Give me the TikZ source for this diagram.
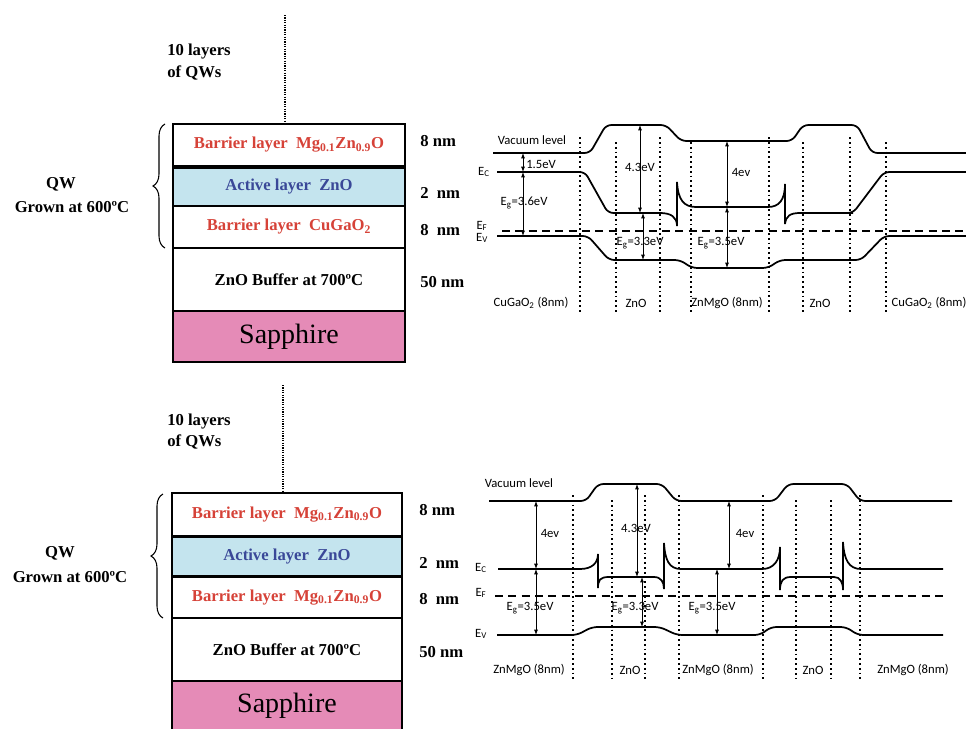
\documentclass[tikz,border=0pt]{standalone}
\usepackage{fontspec}
\setmainfont{Liberation Serif}
\newfontfamily\bandfont{Carlito}
\usetikzlibrary{arrows.meta,decorations.pathreplacing}
\definecolor{barred}{RGB}{214,66,56}
\definecolor{actblue}{RGB}{58,72,152}
\definecolor{actfill}{RGB}{196,228,238}
\definecolor{sapfill}{RGB}{229,139,183}
\tikzset{
  layer/.style={draw=black, line width=2pt, fill=white, inner sep=0pt, font=\bfseries\fontsize{12.5}{14}\selectfont},
  bartxt/.style={text=barred},
  acttxt/.style={text=actblue, fill=actfill},
  sapph/.style={fill=sapfill, font=\fontsize{21}{24}\selectfont},
  sidelbl/.style={font=\bfseries\fontsize{12.5}{14}\selectfont, anchor=west, inner sep=0pt},
  qwlbl/.style={font=\bfseries\fontsize{12.5}{14}\selectfont, inner sep=0pt},
  dotv/.style={line width=1.6pt, dash pattern=on 0.9pt off 0.9pt},
  brc/.style={line width=0.8pt, decorate, decoration={brace, amplitude=9pt}},
  band/.style={line width=1.3pt, rounded corners=4pt},
  spk/.style={line width=1.3pt},
  fermi/.style={line width=1.3pt, dash pattern=on 6pt off 4pt},
  grid/.style={line width=1.1pt, dash pattern=on 1.4pt off 2.2pt},
  dbl/.style={{Latex[length=4pt,width=3pt]}-{Latex[length=4pt,width=3pt]}, line width=0.7pt},
  bt/.style={font=\bandfont\fontsize{9.5}{11}\selectfont, inner sep=0pt},
}
\begin{document}
\begin{tikzpicture}[x=0.75pt, y=-0.75pt]
\clip (0,0) rectangle (966,728);
\fill[white] (0,0) rectangle (966,728);

% ================= TOP STACK =================
\node[layer, bartxt, minimum width=174pt, minimum height=31.5pt] (tb1) at (289,145) {Barrier layer\ \ Mg\textsubscript{0.1}Zn\textsubscript{0.9}O};
\node[layer, acttxt, minimum width=174pt, minimum height=28.5pt] (ta) at (289,187) {Active layer\ \ ZnO};
\node[layer, bartxt, minimum width=174pt, minimum height=31.5pt] (tb2) at (289,227) {Barrier layer\ \ CuGaO\textsubscript{2}};
\node[layer, minimum width=174pt, minimum height=47.25pt] (tbuf) at (289,279.5) {ZnO Buffer at 700ºC};
\node[layer, sapph, minimum width=174pt, minimum height=38.25pt] (tsap) at (289,336.5) {Sapphire};
\coordinate (tdot) at (285,15);
\draw[dotv] (tdot) -- (tdot |- tb1.north);
\node[qwlbl, anchor=west] (t10a) at (167,52) {10 layers};
\node[qwlbl, anchor=west] (t10b) at (167,73) {of QWs};
\node[qwlbl] (tqw) at (61,184) {QW};
\node[qwlbl] (tgr) at (72,207) {Grown at 600ºC};
\coordinate (tbrb) at (165,248);
\coordinate (tbrt) at (165,124);
\draw[brc] (tbrb) -- (tbrt);
\node[sidelbl] (tl1) at (420,141) {8 nm};
\node[sidelbl] (tl2) at (420,193) {2\ \ nm};
\node[sidelbl] (tl3) at (420,230) {8\ \ nm};
\node[sidelbl] (tl4) at (420,282) {50 nm};

% ================= BOTTOM STACK =================
\node[layer, bartxt, minimum width=172.5pt, minimum height=32.25pt] (bb1) at (287,514.5) {Barrier layer\ \ Mg\textsubscript{0.1}Zn\textsubscript{0.9}O};
\node[layer, acttxt, minimum width=172.5pt, minimum height=29.25pt] (ba) at (287,556.5) {Active layer\ \ ZnO};
\node[layer, bartxt, minimum width=172.5pt, minimum height=30.75pt] (bb2) at (287,597.5) {Barrier layer\ \ Mg\textsubscript{0.1}Zn\textsubscript{0.9}O};
\node[layer, minimum width=172.5pt, minimum height=47.25pt] (bbuf) at (287,649.5) {ZnO Buffer at 700ºC};
\node[layer, sapph, minimum width=172.5pt, minimum height=36.75pt] (bsap) at (287,705.5) {Sapphire};
\coordinate (bdot) at (283,385);
\draw[dotv] (bdot) -- (bdot |- bb1.north);
\node[qwlbl, anchor=west] (b10a) at (167,422) {10 layers};
\node[qwlbl, anchor=west] (b10b) at (167,442) {of QWs};
\node[qwlbl] (bqw) at (60,553) {QW};
\node[qwlbl] (bgr) at (70,577) {Grown at 600ºC};
\coordinate (bbrb) at (163,618);
\coordinate (bbrt) at (163,494);
\draw[brc] (bbrb) -- (bbrt);
\node[sidelbl] (bl1) at (419,510) {8 nm};
\node[sidelbl] (bl2) at (419,563) {2\ \ nm};
\node[sidelbl] (bl3) at (419,599) {8\ \ nm};
\node[sidelbl] (bl4) at (419,652) {50 nm};

% ================= TOP BAND DIAGRAM =================
\foreach \x/\ys in {580/137,616/142,660/137,691/142,769/137,803/142,850/137,886/142}
  \draw[grid] (\x,\ys) -- (\x,312);
% vacuum
\draw[band] (493,153) -- (590,153) -- (606,125) -- (666,125) -- (681,141) -- (792,141) -- (803,125) -- (857,125) -- (872,153) -- (966,153);
% Ec
\draw[band] (497,172) -- (585,172) -- (608,213) -- (662,213);
\draw[spk] (660,213) .. controls (671,213) and (677,217) .. (677,226) -- (677,182) .. controls (678,200) and (684,207) .. (696,207) -- (768,207) .. controls (779,207) and (785,200) .. (785,184) -- (785,224) .. controls (786,216) and (790,213) .. (800,213) -- (853,213);
\draw[band] (848,213) -- (853,213) -- (884,172) -- (966,172);
% Ef
\draw[fermi] (502,231) -- (966,231);
% Ev
\draw[band] (497,236) -- (588,236) -- (609,260) -- (680,260) -- (692,268) -- (768,268) -- (780,260) -- (861,260) -- (884,236) -- (966,236);
% labels
\node[bt] at (532,140) {Vacuum level};
\node[bt] at (484,172) {E\textsubscript{C}};
\node[bt] at (482,226) {E\textsubscript{F}};
\node[bt] at (482,238) {E\textsubscript{V}};
\draw[dbl] (523,153) -- (523,172);
\draw[dbl] (523,172) -- (523,236);
\node[bt, anchor=west] at (526,164) {1.5eV};
\node[bt] at (524,203) {E\textsubscript{g}=3.6eV};
\draw[dbl] (640,125) -- (640,213);
\draw[dbl] (643,213) -- (643,260);
\node[bt] at (640,167) {4.3eV};
\node[bt] at (640,243) {E\textsubscript{g}=3.3eV};
\draw[dbl] (727,141) -- (727,207);
\draw[dbl] (727,207) -- (727,268);
\node[bt] at (741,172) {4ev};
\node[bt] at (721,243) {E\textsubscript{g}=3.5eV};
\node[bt] at (531,303) {CuGaO\textsubscript{2} (8nm)};
\node[bt] at (636,303) {ZnO};
\node[bt] at (727,303) {ZnMgO (8nm)};
\node[bt] at (820,303) {ZnO};
\node[bt] at (929,303) {CuGaO\textsubscript{2} (8nm)};

% ================= BOTTOM BAND DIAGRAM =================
\foreach \x/\ys in {573/495,612/500,645/495,679/495,763/495,796/500,831/500,860/495}
  \draw[grid] (\x,\ys) -- (\x,682);
% vacuum
\draw[band] (489,501) -- (586,501) -- (598,484) -- (662,484) -- (676,501) -- (775,501) -- (788,484) -- (847,484) -- (860,501) -- (952,501);
% Ec
\draw[spk] (498,569) -- (580,569) .. controls (592,569) and (598,563) .. (598,554) -- (598,588) .. controls (598,580) and (600,577) .. (609,577) -- (654,577) .. controls (661,577) and (664,582) .. (664,589) -- (664,543) .. controls (665,560) and (669,569) .. (681,569) -- (762,569) .. controls (774,569) and (780,560) .. (780,547) -- (780,590) .. controls (780,581) and (783,577) .. (791,577) -- (834,577) .. controls (840,577) and (843,582) .. (843,590) -- (843,542) .. controls (844,560) and (849,569) .. (861,569) -- (943,569);
% Ef
\draw[fermi] (495,596) -- (943,596);
% Ev
\draw[band] (497,635) -- (577,635) -- (592,627) -- (660,627) -- (677,635) -- (760,635) -- (771,627) -- (846,627) -- (858,635) -- (943,635);
% labels
\node[bt] at (519,483) {Vacuum level};
\node[bt] at (481,568) {E\textsubscript{C}};
\node[bt] at (481,593) {E\textsubscript{F}};
\node[bt] at (481,634) {E\textsubscript{V}};
\draw[dbl] (536,501) -- (536,569);
\draw[dbl] (536,569) -- (536,635);
\node[bt] at (550,533) {4ev};
\node[bt] at (530,608) {E\textsubscript{g}=3.5eV};
\draw[dbl] (637,484) -- (637,577);
\draw[dbl] (642,577) -- (642,627);
\node[bt] at (636,528) {4.3eV};
\node[bt] at (635,608) {E\textsubscript{g}=3.3eV};
\draw[dbl] (729,501) -- (729,569);
\draw[dbl] (717,569) -- (717,635);
\node[bt] at (745,533) {4ev};
\node[bt] at (712,608) {E\textsubscript{g}=3.5eV};
\node[bt] at (529,670) {ZnMgO (8nm)};
\node[bt] at (630,670) {ZnO};
\node[bt] at (718,670) {ZnMgO (8nm)};
\node[bt] at (813,670) {ZnO};
\node[bt] at (913,670) {ZnMgO (8nm)};
\end{tikzpicture}
\end{document}
